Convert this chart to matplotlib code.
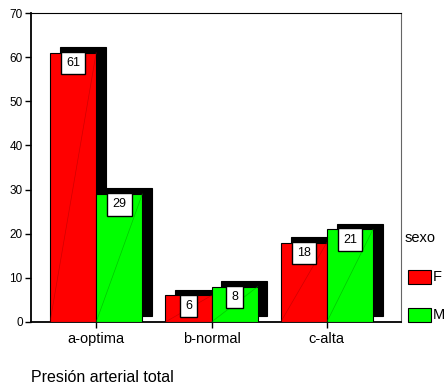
import matplotlib.pyplot as plt
from matplotlib.patches import Rectangle
import numpy as np

plt.rcParams['font.family'] = ['Liberation Sans', 'DejaVu Sans']

categories = ['a-optima', 'b-normal', 'c-alta']
f_counts = [61, 6, 18]
m_counts = [29, 8, 21]
series = [('F', f_counts, '#ff0000', '#b00000'),
          ('M', m_counts, '#00ff00', '#00a000')]

width = 0.4
sdx, sdy = 0.085, 1.3   # drop shadow offset

fig = plt.figure(figsize=(4.45, 3.87), dpi=100)
ax = fig.add_axes([0.0697, 0.168, 0.8315, 0.7984])

x = np.arange(len(categories))
for gi in range(len(categories)):
    for si, (name, vals, col, dark) in enumerate(series):
        left = x[gi] - width + si * width
        v = vals[gi]
        # shadow
        ax.add_patch(Rectangle((left + sdx, sdy), width, v, fc='black', ec='black', lw=0.8, zorder=2 + 2 * si))
        # bar
        ax.add_patch(Rectangle((left, 0), width, v, fc=col, ec='black', lw=0.8, zorder=3 + 2 * si))
        ax.plot([left, left + width], [0, v], color=dark, lw=0.5, alpha=0.6, zorder=3 + 2 * si)
        ax.annotate(str(v), (left + width / 2, v), xytext=(0, -7.5), textcoords='offset points',
                    ha='center', va='center', fontsize=9, zorder=10,
                    bbox=dict(boxstyle='square,pad=0.42', fc='white', ec='black', lw=1))

ax.set_xlim(-0.565, 2.643)
ax.set_ylim(0, 70)
ax.set_yticks(range(0, 71, 10))
ax.set_xticks(x)
ax.set_xticklabels(categories, fontsize=10.5)
ax.tick_params(axis='y', labelsize=8.5, length=4, width=1, pad=2)
ax.tick_params(axis='x', length=4, width=1, pad=3)
for s in ['left', 'bottom']:
    ax.spines[s].set_linewidth(1.3)
ax.spines['top'].set_linewidth(0.8)
ax.spines['right'].set_linewidth(0.8)
ax.spines['right'].set_color('#666666')

fig.text(31 / 445, 1 - 377 / 387, 'Presión arterial total', fontsize=11.5, ha='left', va='center')

# legend
fig.text(405 / 445, 1 - 238 / 387, 'sexo', fontsize=10.5, ha='left', va='center')
for (name, vals, col, dark), ytop in zip(series, [270, 308]):
    fig.patches.append(Rectangle((408 / 445, 1 - (ytop + 14) / 387), 23 / 445, 14 / 387,
                                 transform=fig.transFigure, fc=col, ec='black', lw=0.8))
    fig.text(433 / 445, 1 - (ytop + 7) / 387, name, fontsize=10.5, ha='left', va='center')

fig.savefig('out.png', dpi=100)
